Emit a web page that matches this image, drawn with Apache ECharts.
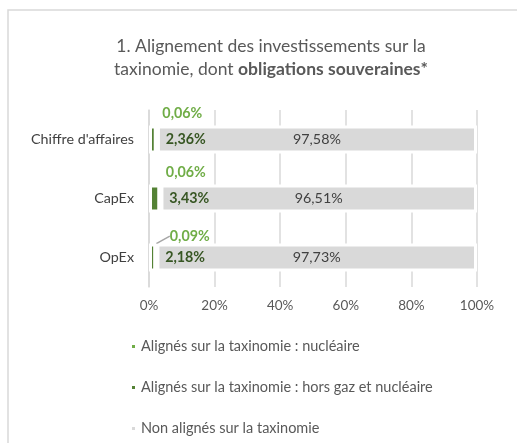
<!DOCTYPE html>
<html>
<head>
<meta charset="utf-8">
<script src="https://cdn.jsdelivr.net/npm/echarts@6/dist/echarts.min.js"></script>
<style>
  html, body { margin: 0; padding: 0; background: #fff; }
  #chart { width: 517px; height: 443px; }
</style>
</head>
<body>
<div id="chart"></div>
<script>
var categories = ["Chiffre d'affaires", "CapEx", "OpEx"];
var horsGaz = [2.36, 3.43, 2.18];
var nucleaire = [0.06, 0.06, 0.09];
var nonAlignes = [97.58, 96.51, 97.73];
var seriesNames = [
    "Alignés sur la taxinomie : nucléaire",
    "Alignés sur la taxinomie : hors gaz et nucléaire",
    "Non alignés sur la taxinomie"
];
var xTicks = [0, 20, 40, 60, 80, 100];

var font = "Lato";
var pct = function(v) { return v.toFixed(2).replace(".", ",") + "%"; };

var chart = echarts.init(document.getElementById("chart"));

var nucData = nucleaire.map(function(v, i) {
    var item = { value: v };
    if (i == 2) {
        item.label = { position: [15, -6] };
        item.labelLine = { show: true, lineStyle: { color: "#a6a6a6", width: 1.5 } };
    }
    return item;
});

chart.setOption({
    animation: false,
    textStyle: { fontFamily: font },
    graphic: [{
        type: "rect",
        shape: { x: 8, y: 10, width: 540, height: 460 },
        style: { fill: "none", stroke: "#d9d9d9", lineWidth: 1.5 },
        silent: true
    }],
    title: {
        text: "1. Alignement des investissements sur la\ntaxinomie, dont {b|obligations souveraines*}",
        left: 266,
        textAlign: "center",
        top: 30,
        textStyle: {
            fontFamily: font, fontSize: 17.5, fontWeight: "normal", color: "#595959", lineHeight: 23,
            rich: { b: { fontFamily: font, fontSize: 17.5, fontWeight: "bold", color: "#595959", lineHeight: 23 } }
        }
    },
    legend: {
        orient: "vertical",
        left: 125,
        top: 334,
        icon: "rect",
        itemWidth: 5,
        itemHeight: 5,
        itemGap: 26,
        data: seriesNames,
        textStyle: { fontFamily: font, fontSize: 14.5, color: "#595959" }
    },
    grid: { left: 149, right: 40, top: 110, bottom: 156 },
    xAxis: {
        type: "value",
        min: 0,
        max: 100,
        interval: 20,
        axisLine: { show: false },
        axisTick: { show: false },
        axisLabel: {
            margin: 12, fontFamily: font, fontSize: 13.5, color: "#595959",
            formatter: function(v) { return xTicks.indexOf(v) >= 0 ? v + "%" : ""; }
        },
        splitLine: { lineStyle: { color: "#d9d9d9", width: 1.5 } }
    },
    yAxis: {
        type: "category",
        inverse: true,
        data: categories,
        axisLine: { lineStyle: { color: "#d9d9d9", width: 1.5 } },
        axisTick: { length: 5, lineStyle: { color: "#d9d9d9", width: 1.5 } },
        axisLabel: { margin: 15, fontFamily: font, fontSize: 14.3, color: "#404040" }
    },
    series: [{
        name: seriesNames[1],
        type: "bar",
        stack: "t",
        z: 3,
        barWidth: 28,
        data: horsGaz,
        itemStyle: { color: "#548235", borderColor: "#fff", borderWidth: 3 },
        label: {
            show: true, position: "right", distance: 9,
            fontFamily: font, fontSize: 14.3, fontWeight: "bold", color: "#375623",
            formatter: function(p) { return pct(p.value); }
        }
    }, {
        name: seriesNames[0],
        type: "bar",
        stack: "t",
        z: 3,
        barWidth: 28,
        data: nucData,
        itemStyle: { color: "#70ad47", borderColor: "#fff", borderWidth: 3 },
        label: {
            show: true, position: [7, -11], align: "left", verticalAlign: "middle",
            fontFamily: font, fontSize: 14.3, fontWeight: "bold", color: "#70ad47",
            formatter: function(p) { return pct(p.value); }
        }
    }, {
        name: seriesNames[2],
        type: "bar",
        stack: "t",
        z: 2,
        barWidth: 28,
        data: nonAlignes,
        itemStyle: { color: "#d9d9d9", borderColor: "#fff", borderWidth: 3 },
        label: {
            show: true, position: "inside",
            fontFamily: font, fontSize: 14.3, color: "#404040",
            formatter: function(p) { return pct(p.value); }
        }
    }]
});
</script>
</body>
</html>
